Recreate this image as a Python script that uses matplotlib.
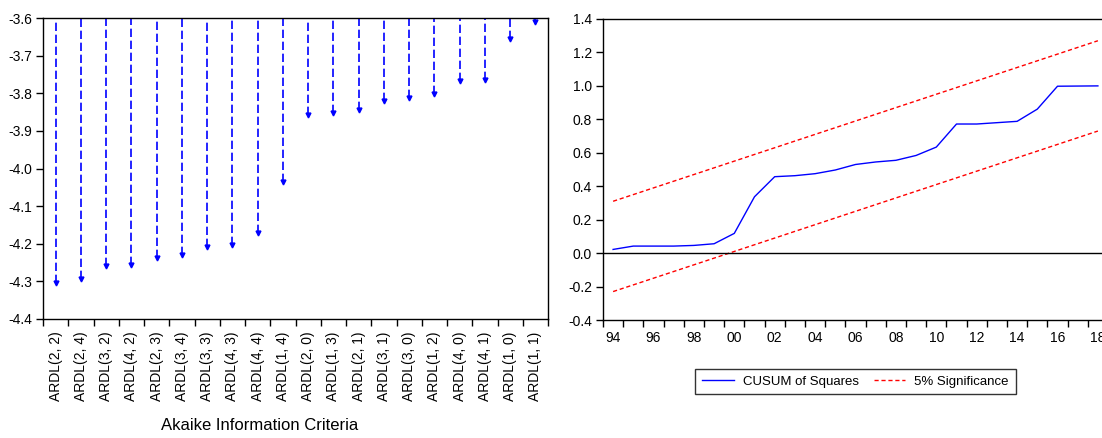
import numpy as np
import matplotlib
matplotlib.use("Agg")
import matplotlib.pyplot as plt
from matplotlib.ticker import FixedLocator, FuncFormatter

plt.rcParams['font.family'] = ['Liberation Sans', 'DejaVu Sans']
plt.rcParams['font.size'] = 10

# Akaike Information Criteria, top 20 models
models = ['ARDL(2, 2)', 'ARDL(2, 4)', 'ARDL(3, 2)', 'ARDL(4, 2)', 'ARDL(2, 3)',
          'ARDL(3, 4)', 'ARDL(3, 3)', 'ARDL(4, 3)', 'ARDL(4, 4)', 'ARDL(1, 4)',
          'ARDL(2, 0)', 'ARDL(1, 3)', 'ARDL(2, 1)', 'ARDL(3, 1)', 'ARDL(3, 0)',
          'ARDL(1, 2)', 'ARDL(4, 0)', 'ARDL(4, 1)', 'ARDL(1, 0)', 'ARDL(1, 1)']
aic = [-4.305, -4.294, -4.259, -4.257, -4.239,
       -4.230, -4.208, -4.202, -4.171, -4.035,
       -3.858, -3.853, -3.845, -3.820, -3.812,
       -3.802, -3.768, -3.765, -3.657, -3.610]

# CUSUM of squares test
years = [1994, 1995, 1996, 1997, 1998, 1999, 2000, 2001, 2002, 2003, 2004, 2005,
         2006, 2007, 2008, 2009, 2010, 2011, 2012, 2013, 2014, 2015, 2016, 2017, 2018]
cusumsq = [0.022, 0.042, 0.042, 0.042, 0.046, 0.056, 0.118, 0.337, 0.457, 0.463,
           0.475, 0.497, 0.530, 0.545, 0.555, 0.584, 0.634, 0.772, 0.772, 0.780,
           0.788, 0.861, 0.998, 0.999, 1.000]
band_years = [1994, 2018]
upper_5 = [0.31, 1.27]
lower_5 = [-0.23, 0.73]

W, H = 1102, 438
fig = plt.figure(figsize=(W / 100, H / 100), dpi=100)

# ---- left: AIC drop lines ----
ax1 = fig.add_axes([43 / W, 1 - 319 / H, 505 / W, 301 / H])
x = np.arange(len(models))
top = -3.6
ax1.vlines(x, aic, top, colors='#0000ff', linestyles=(0, (5, 2.2)), lw=1.2)
ax1.plot(x, aic, ls='none', marker='v', ms=3.5, color='#0000ff')
ax1.set_ylim(-4.4, -3.6)
ax1.set_xlim(-0.5, len(models) - 0.5)
ax1.set_yticks(np.arange(-4.4, -3.55, 0.1))
ax1.yaxis.set_major_formatter(FuncFormatter(lambda v, p: f"{v:.1f}"))
ax1.set_xticks(x)
ax1.set_xticklabels(models, rotation=90)
ax1.xaxis.set_minor_locator(FixedLocator(np.arange(-0.5, len(models), 1.0)))
ax1.tick_params(axis='x', which='major', length=0, pad=9)
ax1.tick_params(axis='x', which='minor', length=5, direction='out', width=1)
ax1.tick_params(axis='y', length=5, direction='out', width=1, pad=3)
ax1.set_xlabel("Akaike Information Criteria", fontsize=12)
ax1.xaxis.set_label_coords(0.428, -0.33)

# ---- right: CUSUM of squares ----
ax2 = fig.add_axes([603 / W, 1 - 320 / H, 505 / W, 301 / H])
ax2.plot(years, cusumsq, color='#0000ff', lw=1, label='CUSUM of Squares')
ax2.plot(band_years, upper_5, color='#ff0000', lw=1, ls=(0, (3, 2)),
         label='5% Significance')
ax2.plot(band_years, lower_5, color='#ff0000', lw=1, ls=(0, (3, 2)))
ax2.axhline(0, color='black', lw=1)
ax2.set_xlim(1993.5, 2018.5)
ax2.set_ylim(-0.4, 1.4)
ax2.set_yticks(np.arange(-0.4, 1.45, 0.2))
ax2.yaxis.set_major_formatter(FuncFormatter(lambda v, p: f"{v:.1f}"))
ax2.set_xticks(np.arange(1994, 2019, 2))
ax2.xaxis.set_major_formatter(FuncFormatter(lambda v, p: f"{int(round(v)) % 100:02d}"))
ax2.xaxis.set_minor_locator(FixedLocator(np.arange(1993.5, 2019, 1.0)))
ax2.tick_params(axis='x', which='major', length=0, pad=8)
ax2.tick_params(axis='x', which='minor', length=5, direction='out', width=1)
ax2.tick_params(axis='y', length=5, direction='out', width=1, pad=3)

for ax in (ax1, ax2):
    for s in ax.spines.values():
        s.set_linewidth(1)
        s.set_color('black')

leg = fig.legend(loc='center', bbox_to_anchor=(855.5 / W, 1 - 381.5 / H), ncol=2,
                 frameon=True, fancybox=False, edgecolor='black', fontsize=9.5,
                 handlelength=2.4, handletextpad=0.7, columnspacing=1.1,
                 borderpad=0.5, borderaxespad=0)
leg.get_frame().set_linewidth(1)

fig.savefig("out.png", dpi=100)
